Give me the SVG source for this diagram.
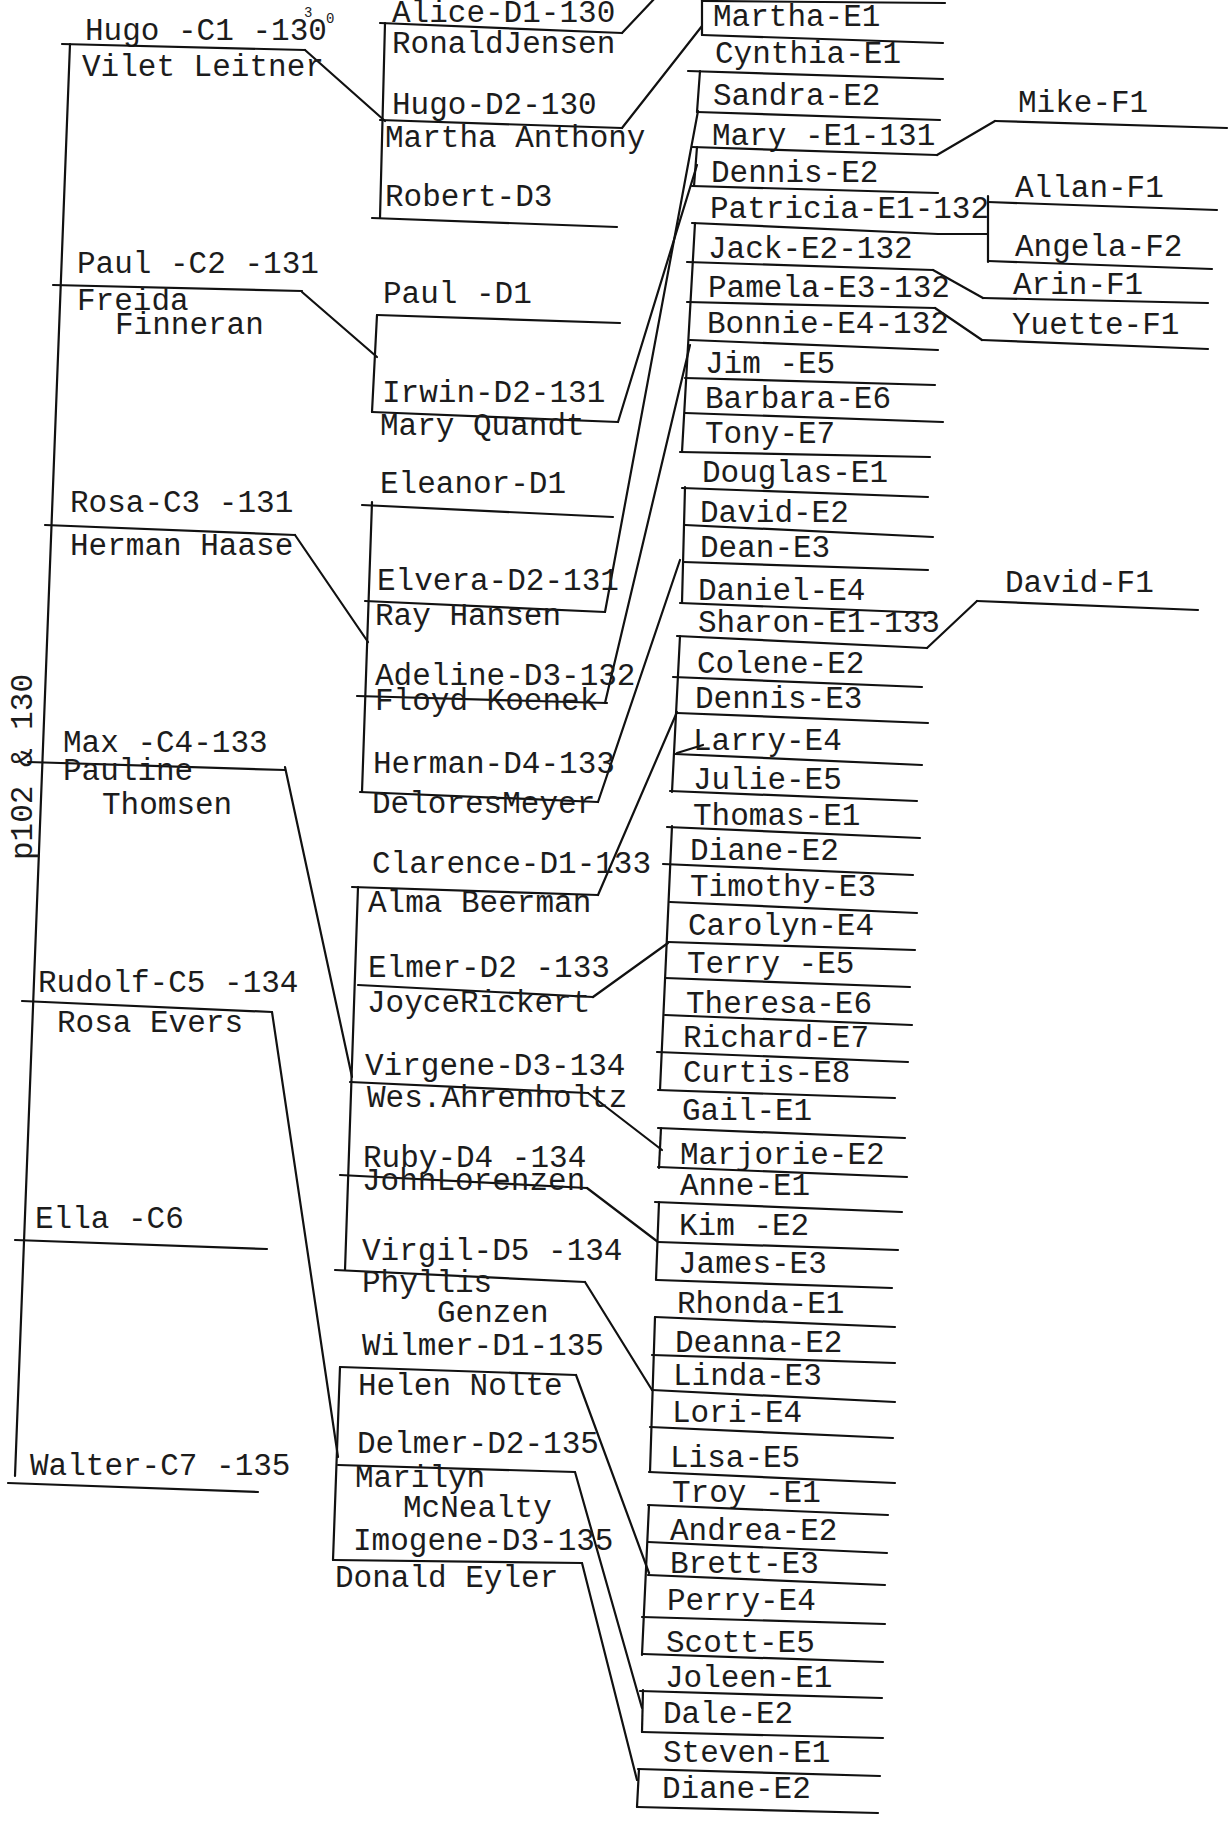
<svg xmlns="http://www.w3.org/2000/svg" width="1231" height="1821" viewBox="0 0 1231 1821">
<style>
text{font-family:"Liberation Mono","Courier New",monospace;font-size:31px;fill:#1c1c1c}
.sm{font-size:14px}
line,path{stroke:#111;stroke-width:2.2;fill:none;stroke-linecap:round}
</style>
<rect width="1231" height="1821" fill="#fff"/>
<g id="connectors">
<line x1="70" y1="44" x2="15" y2="1476"/>
<line x1="305" y1="50" x2="385" y2="121"/>
<line x1="302" y1="292" x2="377" y2="357"/>
<line x1="295" y1="535" x2="368" y2="642"/>
<line x1="285" y1="767" x2="352" y2="1077"/>
<line x1="272" y1="1012" x2="338" y2="1457"/>
<line x1="385" y1="23" x2="380" y2="218"/>
<line x1="377" y1="315" x2="372" y2="412"/>
<line x1="372" y1="502" x2="362" y2="792"/>
<line x1="358" y1="887" x2="345" y2="1270"/>
<line x1="340" y1="1367" x2="333" y2="1560"/>
<line x1="622" y1="33" x2="656" y2="-3"/>
<line x1="622" y1="128" x2="702" y2="26"/>
<line x1="618" y1="422" x2="697" y2="165"/>
<line x1="605" y1="612" x2="698" y2="111"/>
<line x1="605" y1="703" x2="690" y2="345"/>
<line x1="598" y1="802" x2="680" y2="560"/>
<line x1="598" y1="895" x2="677" y2="712"/>
<line x1="593" y1="997" x2="668" y2="943"/>
<line x1="588" y1="1093" x2="662" y2="1150"/>
<line x1="587" y1="1188" x2="658" y2="1242"/>
<line x1="585" y1="1282" x2="652" y2="1390"/>
<line x1="576" y1="1375" x2="649" y2="1573"/>
<line x1="575" y1="1472" x2="642" y2="1708"/>
<line x1="582" y1="1563" x2="637" y2="1780"/>
<line x1="702" y1="0" x2="702" y2="35"/>
<line x1="702" y1="1" x2="945" y2="3"/>
<line x1="700" y1="71" x2="697" y2="112"/>
<line x1="697" y1="147" x2="694" y2="186"/>
<line x1="695" y1="223" x2="682" y2="452"/>
<line x1="685" y1="487" x2="682" y2="603"/>
<line x1="680" y1="636" x2="672" y2="792"/>
<line x1="672" y1="826" x2="660" y2="1090"/>
<line x1="661" y1="1128" x2="659" y2="1168"/>
<line x1="659" y1="1202" x2="656" y2="1280"/>
<line x1="655" y1="1317" x2="650" y2="1472"/>
<line x1="649" y1="1505" x2="642" y2="1655"/>
<line x1="643" y1="1690" x2="642" y2="1732"/>
<line x1="639" y1="1769" x2="637" y2="1807"/>
<line x1="677" y1="753" x2="703" y2="745"/>
<line x1="937" y1="155" x2="995" y2="121"/>
<line x1="938" y1="234" x2="988" y2="234"/>
<line x1="988" y1="196" x2="988" y2="262"/>
<line x1="933" y1="270" x2="983" y2="298"/>
<line x1="935" y1="308" x2="982" y2="340"/>
<line x1="927" y1="648" x2="977" y2="601"/>
</g>
<text transform="translate(32,860) rotate(-90)">p102 &amp; 130</text>
<g id="c1"><text x="85" y="40">Hugo -C1 -130</text><text class="sm" x="304" y="17">3</text><text class="sm" x="326" y="23">0</text><line x1="62" y1="44" x2="305" y2="50"/><text x="82" y="76">Vilet Leitner</text></g>
<g id="c2"><text x="77" y="273">Paul -C2 -131</text><line x1="53" y1="285" x2="302" y2="291"/><text x="77" y="310">Freida</text><text x="115" y="334">Finneran</text></g>
<g id="c3"><text x="70" y="512">Rosa-C3 -131</text><line x1="45" y1="525" x2="295" y2="535"/><text x="70" y="555">Herman Haase</text></g>
<g id="c4"><text x="63" y="752">Max -C4-133</text><line x1="28" y1="762" x2="285" y2="770"/><text x="63" y="780">Pauline</text><text x="102" y="814">Thomsen</text></g>
<g id="c5"><text x="38" y="992">Rudolf-C5 -134</text><line x1="22" y1="1001" x2="272" y2="1012"/><text x="57" y="1032">Rosa Evers</text></g>
<g id="c6"><text x="35" y="1228">Ella -C6</text><line x1="15" y1="1240" x2="267" y2="1249"/></g>
<g id="c7"><text x="30" y="1475">Walter-C7 -135</text><line x1="8" y1="1483" x2="258" y2="1492"/></g>
<g id="d-alice"><text x="392" y="22">Alice-D1-130</text><line x1="380" y1="23" x2="622" y2="33"/><text x="392" y="53">RonaldJensen</text></g>
<g id="d-hugo"><text x="392" y="114">Hugo-D2-130</text><line x1="380" y1="120" x2="622" y2="128"/><text x="385" y="147">Martha Anthony</text></g>
<g id="d-robert"><text x="385" y="206">Robert-D3</text><line x1="372" y1="218" x2="617" y2="227"/></g>
<g id="d-paul"><text x="383" y="303">Paul -D1</text><line x1="377" y1="315" x2="620" y2="323"/></g>
<g id="d-irwin"><text x="382" y="402">Irwin-D2-131</text><line x1="372" y1="412" x2="618" y2="422"/><text x="380" y="435">Mary Quandt</text></g>
<g id="d-eleanor"><text x="380" y="493">Eleanor-D1</text><line x1="362" y1="505" x2="613" y2="517"/></g>
<g id="d-elvera"><text x="377" y="590">Elvera-D2-131</text><line x1="365" y1="601" x2="605" y2="612"/><text x="375" y="625">Ray Hansen</text></g>
<g id="d-adeline"><text x="375" y="685">Adeline-D3-132</text><line x1="357" y1="696" x2="607" y2="703"/><text x="375" y="710">Floyd Koenek</text></g>
<g id="d-herman"><text x="373" y="773">Herman-D4-133</text><line x1="360" y1="792" x2="598" y2="802"/><text x="372" y="813">DeloresMeyer</text></g>
<g id="d-clarence"><text x="372" y="873">Clarence-D1-133</text><line x1="352" y1="887" x2="598" y2="895"/><text x="368" y="912">Alma Beerman</text></g>
<g id="d-elmer"><text x="368" y="977">Elmer-D2 -133</text><line x1="358" y1="985" x2="593" y2="997"/><text x="367" y="1012">JoyceRickert</text></g>
<g id="d-virgene"><text x="365" y="1075">Virgene-D3-134</text><line x1="350" y1="1082" x2="588" y2="1093"/><text x="367" y="1107">Wes.Ahrenholtz</text></g>
<g id="d-ruby"><text x="363" y="1167">Ruby-D4 -134</text><line x1="340" y1="1175" x2="587" y2="1188"/><text x="362" y="1190">JohnLorenzen</text></g>
<g id="d-virgil"><text x="362" y="1260">Virgil-D5 -134</text><line x1="335" y1="1270" x2="585" y2="1282"/><text x="362" y="1292">Phyllis</text><text x="437" y="1322">Genzen</text></g>
<g id="d-wilmer"><text x="362" y="1355">Wilmer-D1-135</text><line x1="340" y1="1367" x2="576" y2="1375"/><text x="358" y="1395">Helen Nolte</text></g>
<g id="d-delmer"><text x="357" y="1453">Delmer-D2-135</text><line x1="338" y1="1465" x2="575" y2="1472"/><text x="355" y="1487">Marilyn</text><text x="403" y="1517">McNealty</text></g>
<g id="d-imogene"><text x="353" y="1550">Imogene-D3-135</text><line x1="333" y1="1560" x2="582" y2="1563"/><text x="335" y="1587">Donald Eyler</text></g>
<g id="e-martha"><text x="713" y="26">Martha-E1</text><line x1="702" y1="35" x2="943" y2="43"/></g>
<g id="e-cynthia"><text x="715" y="63">Cynthia-E1</text><line x1="688" y1="71" x2="943" y2="79"/></g>
<g id="e-sandra"><text x="713" y="105">Sandra-E2</text><line x1="697" y1="112" x2="940" y2="120"/></g>
<g id="e-mary"><text x="712" y="145">Mary -E1-131</text><line x1="692" y1="147" x2="937" y2="155"/></g>
<g id="e-dennis2"><text x="711" y="182">Dennis-E2</text><line x1="692" y1="186" x2="938" y2="193"/></g>
<g id="e-patricia"><text x="710" y="218">Patricia-E1-132</text><line x1="692" y1="223" x2="938" y2="234"/></g>
<g id="e-jack"><text x="708" y="258">Jack-E2-132</text><line x1="687" y1="262" x2="933" y2="270"/></g>
<g id="e-pamela"><text x="708" y="297">Pamela-E3-132</text><line x1="687" y1="302" x2="935" y2="308"/></g>
<g id="e-bonnie"><text x="707" y="333">Bonnie-E4-132</text><line x1="690" y1="340" x2="938" y2="350"/></g>
<g id="e-jim"><text x="705" y="373">Jim -E5</text><line x1="685" y1="378" x2="935" y2="385"/></g>
<g id="e-barbara"><text x="705" y="408">Barbara-E6</text><line x1="685" y1="413" x2="943" y2="422"/></g>
<g id="e-tony"><text x="705" y="443">Tony-E7</text><line x1="680" y1="452" x2="930" y2="457"/></g>
<g id="e-douglas"><text x="702" y="482">Douglas-E1</text><line x1="682" y1="488" x2="928" y2="497"/></g>
<g id="e-david"><text x="700" y="522">David-E2</text><line x1="685" y1="525" x2="933" y2="537"/></g>
<g id="e-dean"><text x="700" y="557">Dean-E3</text><line x1="683" y1="562" x2="928" y2="570"/></g>
<g id="e-daniel"><text x="698" y="600">Daniel-E4</text><line x1="680" y1="603" x2="932" y2="613"/></g>
<g id="e-sharon"><text x="698" y="632">Sharon-E1-133</text><line x1="677" y1="636" x2="927" y2="648"/></g>
<g id="e-colene"><text x="697" y="673">Colene-E2</text><line x1="673" y1="677" x2="922" y2="687"/></g>
<g id="e-dennis3"><text x="695" y="708">Dennis-E3</text><line x1="677" y1="713" x2="928" y2="723"/></g>
<g id="e-larry"><text x="693" y="750">Larry-E4</text><line x1="675" y1="754" x2="922" y2="765"/></g>
<g id="e-julie"><text x="693" y="789">Julie-E5</text><line x1="670" y1="791" x2="917" y2="801"/></g>
<g id="e-thomas"><text x="693" y="825">Thomas-E1</text><line x1="667" y1="827" x2="920" y2="838"/></g>
<g id="e-diane1"><text x="690" y="860">Diane-E2</text><line x1="663" y1="864" x2="913" y2="875"/></g>
<g id="e-timothy"><text x="690" y="896">Timothy-E3</text><line x1="670" y1="902" x2="917" y2="913"/></g>
<g id="e-carolyn"><text x="688" y="935">Carolyn-E4</text><line x1="668" y1="942" x2="915" y2="950"/></g>
<g id="e-terry"><text x="687" y="973">Terry -E5</text><line x1="665" y1="978" x2="910" y2="987"/></g>
<g id="e-theresa"><text x="686" y="1013">Theresa-E6</text><line x1="665" y1="1015" x2="912" y2="1025"/></g>
<g id="e-richard"><text x="683" y="1047">Richard-E7</text><line x1="657" y1="1052" x2="908" y2="1062"/></g>
<g id="e-curtis"><text x="683" y="1082">Curtis-E8</text><line x1="658" y1="1090" x2="895" y2="1098"/></g>
<g id="e-gail"><text x="682" y="1120">Gail-E1</text><line x1="658" y1="1128" x2="905" y2="1138"/></g>
<g id="e-marjorie"><text x="680" y="1164">Marjorie-E2</text><line x1="658" y1="1167" x2="907" y2="1177"/></g>
<g id="e-anne"><text x="680" y="1195">Anne-E1</text><line x1="655" y1="1202" x2="902" y2="1212"/></g>
<g id="e-kim"><text x="679" y="1235">Kim -E2</text><line x1="658" y1="1242" x2="898" y2="1250"/></g>
<g id="e-james"><text x="678" y="1273">James-E3</text><line x1="657" y1="1280" x2="892" y2="1288"/></g>
<g id="e-rhonda"><text x="677" y="1313">Rhonda-E1</text><line x1="655" y1="1317" x2="895" y2="1327"/></g>
<g id="e-deanna"><text x="675" y="1352">Deanna-E2</text><line x1="652" y1="1355" x2="895" y2="1363"/></g>
<g id="e-linda"><text x="673" y="1385">Linda-E3</text><line x1="652" y1="1390" x2="895" y2="1402"/></g>
<g id="e-lori"><text x="672" y="1422">Lori-E4</text><line x1="650" y1="1427" x2="893" y2="1438"/></g>
<g id="e-lisa"><text x="670" y="1467">Lisa-E5</text><line x1="649" y1="1472" x2="895" y2="1483"/></g>
<g id="e-troy"><text x="672" y="1502">Troy -E1</text><line x1="648" y1="1505" x2="888" y2="1515"/></g>
<g id="e-andrea"><text x="670" y="1540">Andrea-E2</text><line x1="648" y1="1542" x2="887" y2="1553"/></g>
<g id="e-brett"><text x="670" y="1573">Brett-E3</text><line x1="648" y1="1575" x2="885" y2="1585"/></g>
<g id="e-perry"><text x="667" y="1610">Perry-E4</text><line x1="642" y1="1617" x2="885" y2="1624"/></g>
<g id="e-scott"><text x="666" y="1652">Scott-E5</text><line x1="643" y1="1654" x2="883" y2="1662"/></g>
<g id="e-joleen"><text x="665" y="1687">Joleen-E1</text><line x1="640" y1="1691" x2="882" y2="1698"/></g>
<g id="e-dale"><text x="663" y="1723">Dale-E2</text><line x1="642" y1="1732" x2="883" y2="1738"/></g>
<g id="e-steven"><text x="663" y="1762">Steven-E1</text><line x1="638" y1="1769" x2="880" y2="1776"/></g>
<g id="e-diane2"><text x="662" y="1798">Diane-E2</text><line x1="637" y1="1807" x2="878" y2="1813"/></g>
<g id="f-mike"><text x="1018" y="112">Mike-F1</text><line x1="995" y1="121" x2="1227" y2="128"/></g>
<g id="f-allan"><text x="1015" y="197">Allan-F1</text><line x1="988" y1="202" x2="1217" y2="210"/></g>
<g id="f-angela"><text x="1015" y="256">Angela-F2</text><line x1="988" y1="261" x2="1212" y2="269"/></g>
<g id="f-arin"><text x="1013" y="294">Arin-F1</text><line x1="983" y1="298" x2="1208" y2="303"/></g>
<g id="f-yuette"><text x="1012" y="334">Yuette-F1</text><line x1="982" y1="340" x2="1208" y2="349"/></g>
<g id="f-david"><text x="1005" y="592">David-F1</text><line x1="977" y1="601" x2="1198" y2="610"/></g>
</svg>
